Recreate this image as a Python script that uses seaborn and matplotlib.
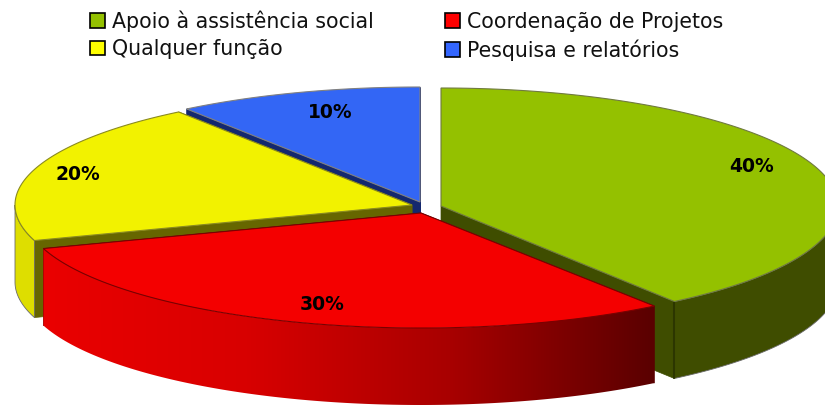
import numpy as np
import matplotlib
matplotlib.use("Agg")
import matplotlib.pyplot as plt
from matplotlib.patches import Polygon, Patch
from matplotlib.colors import LinearSegmentedColormap
import seaborn as sns

categories = ["Apoio à assistência social", "Coordenação de Projetos", "Qualquer função", "Pesquisa e relatórios"]
shares = [40, 30, 20, 10]
share_labels = ["40%", "30%", "20%", "10%"]

top_colors = ["#94c100", "#f40000", "#f2f200", "#3366f5"]
wall_colors = ["#3f4d00", "#5a0000", "#666600", "#14286e"]
rim_colors = ["#dede00"]
edge_colors = ["#707a40", "#7a0000", "#8a8a20", "#808080"]
legend_colors = ["#94c100", "#ff0000", "#ffff00", "#3366ff"]

centers = [(441, 206), (421, 213), (412, 205), (420, 202)]
radii_y = [118, 115, 115, 115]
label_pos = [(752, 167), (322, 305), (78, 175), (330, 113)]
draw_order = [3, 2, 0, 1]
RX, DEPTH = 397, 77

sns.set_theme(style="white")
plt.rcParams["font.family"] = ["DejaVu Sans"]

fig, ax = plt.subplots(figsize=(8.25, 4.05), dpi=100)
ax.set_position([0, 0, 1, 1])
ax.set_axis_off()

bounds = np.cumsum([0] + shares) / sum(shares) * 2 * np.pi


def rim(i, a, b, n=160):
    t = np.linspace(a, b, n)
    cx, cy = centers[i]
    return np.column_stack([cx + RX * np.sin(t), cy - radii_y[i] * np.cos(t)])


z = 2
for i in draw_order:
    a, b = bounds[i], bounds[i + 1]
    cx, cy = centers[i]
    down = np.array([0, DEPTH])
    for edge in (a, b):
        p = rim(i, edge, edge, 2)[0]
        quad = np.array([(cx, cy), p, p + down, (cx, cy + DEPTH)])
        ax.add_patch(Polygon(quad, closed=True, fc=wall_colors[i], ec=wall_colors[i], lw=0.5, zorder=z))
        z += 1
    fa, fb = max(a, np.pi / 2), min(b, 3 * np.pi / 2)
    if fb > fa:
        arc = rim(i, fa, fb)
        wall = np.vstack([arc, (arc + down)[::-1]])
        if i == 1:
            cmap = LinearSegmentedColormap.from_list(
                "redwall", ["#ea0000", "#d80000", "#a80000", "#5a0000"])
            x0, x1 = wall[:, 0].min(), wall[:, 0].max()
            y0, y1 = wall[:, 1].min(), wall[:, 1].max()
            grad = np.linspace(0, 1, 256).reshape(1, -1)
            im = ax.imshow(grad, cmap=cmap, extent=(x0, x1, y1, y0),
                           aspect="auto", zorder=z, interpolation="bilinear")
            im.set_clip_path(Polygon(wall, closed=True, transform=ax.transData))
            z += 1
        else:
            fc = rim_colors[0] if i == 2 else wall_colors[i]
            ax.add_patch(Polygon(wall, closed=True, fc=fc, ec="#6a6a6a", lw=0.6, zorder=z))
            z += 1
            if i == 0:
                ax.plot([arc[-1, 0]] * 2, [arc[-1, 1], arc[-1, 1] + DEPTH],
                        color="#2c3600", lw=1.5, zorder=z)
                z += 1
    face = np.vstack([(cx, cy), rim(i, a, b)])
    ax.add_patch(Polygon(face, closed=True, fc=top_colors[i], ec=edge_colors[i], lw=0.8, zorder=z))
    z += 1

for text, (x, y) in zip(share_labels, label_pos):
    ax.text(x, y, text, ha="center", va="center", fontsize=13.5, fontweight="bold",
            color="black", zorder=z)

handles = [Patch(fc=c, ec="black", lw=1.2) for c in legend_colors]
# matplotlib fills legend columns first: reorder so rows read as in the reference
order = [0, 2, 1, 3]
leg = ax.legend([handles[k] for k in order], [categories[k] for k in order],
                ncol=2, frameon=False, fontsize=14.8,
                loc="upper left", handlelength=0.72, handleheight=0.72, handletextpad=0.33,
                columnspacing=3.5, labelspacing=0.38, borderaxespad=0, borderpad=0,
                labelcolor="#111111")

ax.set_xlim(0, 825)
ax.set_ylim(405, 0)
leg.set_bbox_to_anchor((90, 10), transform=ax.transData)
fig.savefig("out.png", dpi=100, facecolor="white")
